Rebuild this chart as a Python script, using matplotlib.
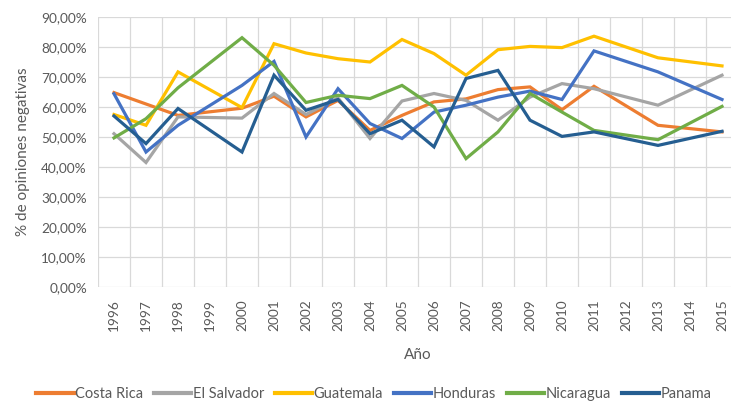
import numpy as np
import matplotlib
matplotlib.use("Agg")
import matplotlib.pyplot as plt
from matplotlib.ticker import FuncFormatter, MultipleLocator

plt.rcParams['font.family'] = ['Lato', 'DejaVu Sans']

years = list(range(1996, 2016))
N = None

# % de opiniones negativas por país (None = sin dato, la línea se une)
costa_rica  = [64.8, N, 57.2, N, 59.6, 63.6, 56.7, 62.2, 52.2, 57.2, 61.7, 62.7, 65.8, 66.7, 59.1, 66.9, N, 53.9, N, 51.7]
el_salvador = [51.1, 41.5, 56.7, N, 56.3, 64.5, 57.5, 63.0, 49.5, 62.0, 64.5, 62.2, 55.6, 63.3, 67.8, 66.1, N, 60.6, N, 70.6]
guatemala   = [57.5, 53.9, 71.7, N, 59.8, 81.1, 78.0, 76.1, 75.0, 82.5, 77.8, 70.6, 79.1, 80.2, 79.8, 83.6, N, 76.4, N, 73.7]
honduras    = [64.4, 45.0, 53.9, N, 67.2, 75.2, 50.0, 66.1, 54.5, 49.5, 58.3, 60.6, 63.3, 65.3, 62.5, 78.7, N, 71.7, N, 62.5]
nicaragua   = [49.7, 56.1, 66.4, N, 83.1, 73.9, 61.5, 63.9, 62.8, 67.2, 60.0, 42.8, 51.7, 64.5, 58.3, 52.2, N, 49.1, N, 60.2]
panama      = [57.0, 47.8, 59.5, N, 45.0, 70.6, 58.9, 62.5, 51.1, 55.6, 46.7, 69.5, 72.2, 55.6, 50.2, 51.7, N, 47.2, N, 51.9]

series = [
    ("Costa Rica", costa_rica, "#ED7D31"),
    ("El Salvador", el_salvador, "#A5A5A5"),
    ("Guatemala", guatemala, "#FFC000"),
    ("Honduras", honduras, "#4472C4"),
    ("Nicaragua", nicaragua, "#70AD47"),
    ("Panama", panama, "#255E91"),
]

fig = plt.figure(figsize=(7.31, 4.03), dpi=100)
ax = fig.add_axes([98 / 731, 116 / 403, 640 / 731, 270 / 403])

for name, vals, col in series:
    xs = [y for y, v in zip(years, vals) if v is not None]
    ys = [v / 100 for v in vals if v is not None]
    ax.plot(xs, ys, color=col, lw=2.3, label=name, solid_joinstyle='miter')

ax.set_xlim(1995.5, 2015.5)
ax.set_ylim(0, 0.9)
ax.yaxis.set_major_locator(MultipleLocator(0.1))
ax.yaxis.set_major_formatter(FuncFormatter(lambda v, p: f"{v*100:.2f}%".replace(".", ",")))
ax.set_xticks(years)
ax.set_xticklabels([str(y) for y in years], rotation=90)
ax.set_xticks(np.arange(1995.5, 2016, 1), minor=True)

ax.grid(True, which='major', axis='y', color='#D9D9D9', lw=0.9)
ax.grid(True, which='minor', axis='x', color='#D9D9D9', lw=0.9)
ax.set_axisbelow(True)
for s in ax.spines.values():
    s.set_visible(False)
ax.tick_params(which='both', length=0, colors='#595959', labelsize=9.8)
ax.tick_params(axis='y', pad=8)
ax.tick_params(axis='x', pad=9)

ax.set_xlabel("Año", fontsize=11, color='#595959', labelpad=12)
ax.set_ylabel("% de opiniones negativas", fontsize=11, color='#595959', labelpad=8)

leg = fig.legend(loc='center', bbox_to_anchor=(374 / 731, 1 - 394 / 403), ncol=6,
                 frameon=False, fontsize=10.5, handlelength=2.55, handletextpad=0.1,
                 columnspacing=0.75)
for t in leg.get_texts():
    t.set_color('#595959')
for l in leg.get_lines():
    l.set_linewidth(3)

fig.savefig("out.png", dpi=100)
